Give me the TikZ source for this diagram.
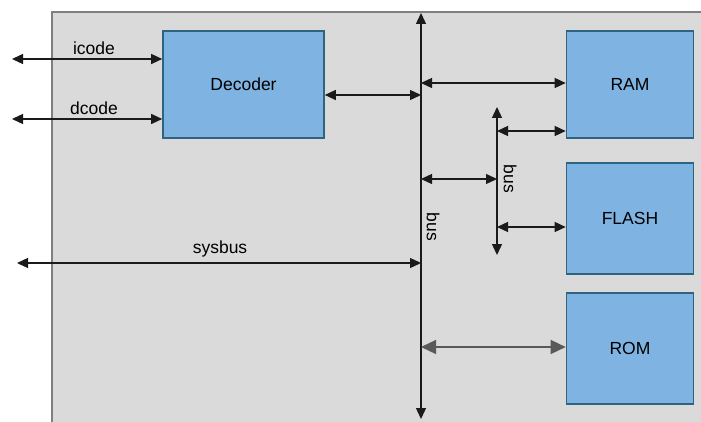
\documentclass[tikz,border=0pt]{standalone}
\usepackage{fontspec}
\setmainfont{Liberation Sans}
\usetikzlibrary{arrows.meta}
\definecolor{bgfill}{HTML}{DADADA}
\definecolor{bgline}{HTML}{7F7F7F}
\definecolor{boxfill}{HTML}{7FB3E1}
\definecolor{boxline}{HTML}{2F6382}
\definecolor{linecol}{HTML}{1A1A1A}
\definecolor{romcol}{HTML}{595959}
\tikzset{
  blockbox/.style={draw=boxline, fill=boxfill, line width=1.6pt, inner sep=0pt,
    font=\fontsize{17.5}{21}\selectfont},
  conn/.style={draw=linecol, line width=1.3pt,
    {Triangle[length=11pt,width=10pt]}-{Triangle[length=11pt,width=10pt]}},
  romconn/.style={draw=romcol, line width=1.3pt,
    {Triangle[length=15pt,width=14pt]}-{Triangle[length=15pt,width=14pt]}},
  lbl/.style={font=\fontsize{17.5}{21}\selectfont, inner sep=0pt, text=black},
}
\begin{document}
\begin{tikzpicture}[x=1pt,y=-1pt]
\useasboundingbox (0,0) rectangle (701,422);
% background panel
\fill[bgfill] (52,12) rectangle (720,440);
\draw[bgline, line width=1.5pt] (52,440) -- (52,12) -- (720,12);

% blocks
\node[blockbox, minimum width=161pt, minimum height=107pt] (dec) at (243.5,84.5) {Decoder};
\node[blockbox, minimum width=127pt, minimum height=107pt] (ram) at (630,84.5) {RAM};
\node[blockbox, minimum width=127pt, minimum height=111pt] (flash) at (630,218.5) {FLASH};
\node[blockbox, minimum width=127pt, minimum height=111pt] (rom) at (630,348.5) {ROM};

% main bus
\coordinate (bt) at (421,13);
\coordinate (bb) at (421,419);
\draw[conn] (bt) -- (bb);
\node[lbl, rotate=-90] (buslbl) at (433,227) {bus};

% sub bus
\coordinate (st) at (497,107);
\coordinate (sb) at (497,255);
\draw[conn] (st) -- (sb);
\node[lbl, rotate=-90] (subbuslbl) at (510,179) {bus};

% external ports
\coordinate (ic) at (12,59);
\coordinate (dc) at (12,119);
\coordinate (sy) at (17,263);
\draw[conn] (ic) -- (ic -| dec.west);
\node[lbl] (iclbl) at (94,48) {icode};
\draw[conn] (dc) -- (dc -| dec.west);
\node[lbl] (dclbl) at (94,108) {dcode};
\draw[conn] (sy) -- (sy -| bt);
\node[lbl] (sylbl) at (220,249) {sysbus};

% decoder to bus
\coordinate (d1) at (421,95);
\draw[conn] (d1 -| dec.east) -- (d1);
% bus to RAM
\coordinate (r1) at (421,83);
\draw[conn] (r1) -- (r1 -| ram.west);
% sub bus to RAM
\coordinate (r2) at (497,131);
\draw[conn] (r2) -- (r2 -| ram.west);
% bus to sub bus
\coordinate (s1) at (421,179);
\draw[conn] (s1) -- (s1 -| st);
% sub bus to FLASH
\coordinate (f1) at (497,227);
\draw[conn] (f1) -- (f1 -| flash.west);
% bus to ROM
\coordinate (o1) at (421,347);
\draw[romconn] (o1) -- (o1 -| rom.west);
\end{tikzpicture}
\end{document}
